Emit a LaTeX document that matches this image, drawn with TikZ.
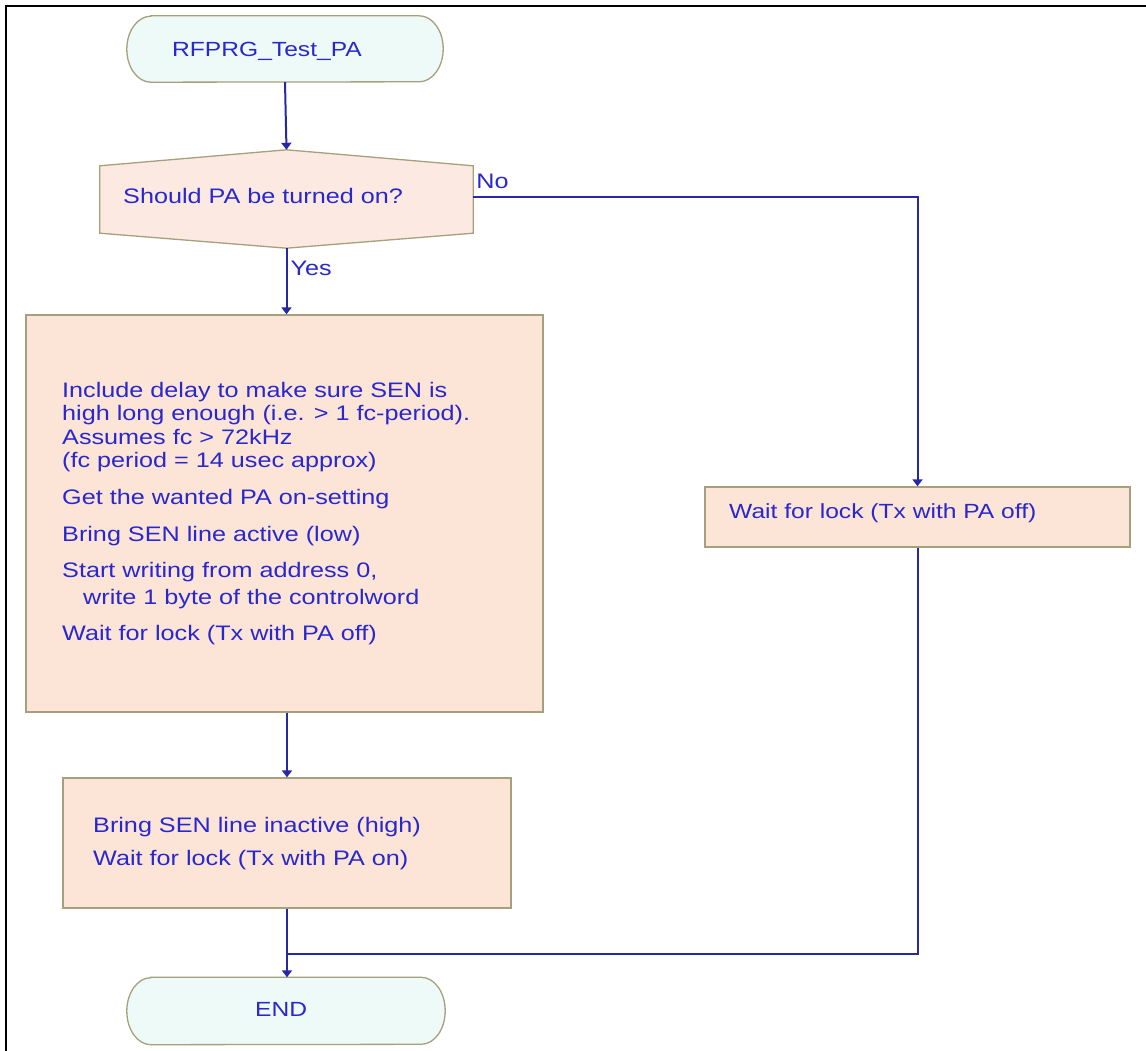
\documentclass[tikz,border=0pt]{standalone}
\usepackage{fontspec}
\usetikzlibrary{calc,arrows.meta}
\newfontfamily\flowfont{Liberation Sans}[FakeStretch=1.2]

\definecolor{textblue}{RGB}{40,40,205}
\definecolor{linecol}{RGB}{40,40,165}
\definecolor{boxfill}{RGB}{252,228,214}
\definecolor{decfill}{RGB}{252,234,226}
\definecolor{termfill}{RGB}{238,250,248}
\definecolor{edgecol}{RGB}{165,160,125}

\tikzset{
  procbox/.style={rectangle, draw=edgecol, line width=1.3pt, fill=boxfill, inner sep=0pt},
  ghost/.style={rectangle, inner sep=0pt},
  termline/.style={draw=edgecol, line width=1.3pt, fill=termfill},
  decline/.style={draw=edgecol, line width=1.3pt, fill=decfill},
  flow/.style={draw=linecol, line width=2pt, -{Triangle[width=10pt,length=7pt]}},
  plain/.style={draw=linecol, line width=2pt},
  bigtxt/.style={text=textblue, inner sep=0pt, align=left,
    font={\flowfont\fontsize{21}{23.5}\selectfont}},
  smalltxt/.style={text=textblue, inner sep=0pt, align=left,
    font={\flowfont\fontsize{20.5}{23}\selectfont}},
}

\begin{document}
\begin{tikzpicture}[x=1pt,y=1pt]
\useasboundingbox (0,0) rectangle (1146,-1051);
% page frame (left and top edges)
\draw[black, line width=2pt] (6,-1051) -- (6,-6) -- (1146,-6);

% start / end terminals: outline with elliptic ends
\node[ghost, minimum width=316pt, minimum height=66pt] (start) at (285,-49) {};
\path[termline] ($(start.north west)+(24,0)$) -- ($(start.north east)+(-24,0)$)
  arc[start angle=90, end angle=-90, x radius=24, y radius=33]
  -- ($(start.south west)+(24,0)$)
  arc[start angle=270, end angle=90, x radius=24, y radius=33] -- cycle;
\node[smalltxt, anchor=base west] (starttxt) at (172,-57) {RFPRG\_Test\_PA};

\node[ghost, minimum width=318pt, minimum height=67pt] (stop) at (286,-1011) {};
\path[termline] ($(stop.north west)+(24,0)$) -- ($(stop.north east)+(-24,0)$)
  arc[start angle=90, end angle=-90, x radius=24, y radius=33.5]
  -- ($(stop.south west)+(24,0)$)
  arc[start angle=270, end angle=90, x radius=24, y radius=33.5] -- cycle;
\node[smalltxt, anchor=base west] (stoptxt) at (255,-1016) {END};

% decision
\node[ghost, minimum width=373pt, minimum height=98pt] (dec) at (286.5,-199) {};
\path[decline] (dec.north) -- ($(dec.north east)+(0,-16)$) -- ($(dec.south east)+(0,15)$)
  -- (dec.south) -- ($(dec.south west)+(0,15)$) -- ($(dec.north west)+(0,-16)$) -- cycle;
\node[bigtxt, anchor=base west] (dectxt) at (123,-204) {Should PA be turned on?};

% process boxes
\node[procbox, minimum width=517pt, minimum height=397pt] (act) at (284.5,-513.5) {};
\node[bigtxt, anchor=north west] (acttxt) at (62,-381) {%
\rule{0pt}{16pt}Include delay to make sure SEN is\\
high long enough (i.e. > 1 fc-period).\\
Assumes fc > 72kHz\\
(fc period = 14 usec approx)\\[13pt]
Get the wanted PA on-setting\\[14pt]
Bring SEN line active (low)\\[12.5pt]
Start writing from address 0,\\[3.5pt]
\hspace*{21pt}write 1 byte of the controlword\\[12.5pt]
Wait for lock (Tx with PA off)};

\node[procbox, minimum width=448pt, minimum height=130pt] (pa) at (287,-843) {};
\node[bigtxt, anchor=north west] (patxt) at (93,-816) {%
\rule{0pt}{16pt}Bring SEN line inactive (high)\\[9.5pt]
Wait for lock (Tx with PA on)};

\node[procbox, minimum width=425pt, minimum height=60pt] (off) at (917.5,-517) {};
\node[smalltxt, anchor=base west] (offtxt) at (729,-518) {Wait for lock (Tx with PA off)};

% connectors
\draw[flow] (start.south) -- (dec.north);
\draw[flow] (dec.south) -- (dec.south |- act.north);
\node[bigtxt, anchor=base west] (yes) at ($(dec.south)+(4,-27)$) {Yes};
\draw[flow] ($(dec.east)+(0,2)$) -| (off.north);
\node[bigtxt, anchor=base west] (no) at ($(dec.east)+(3,10)$) {No};
\draw[flow] (pa.north |- act.south) -- (pa.north);
\coordinate (join) at ($(pa.south)+(0,-45)$);
\draw[plain] (off.south) |- (join);
\draw[flow] (pa.south) -- (pa.south |- stop.north);
\end{tikzpicture}
\end{document}
